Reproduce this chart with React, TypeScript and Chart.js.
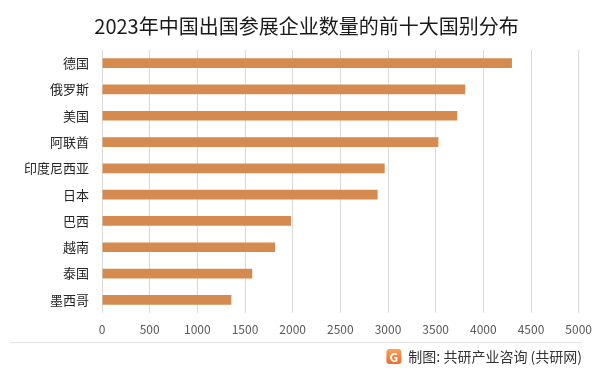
import React, { useEffect, useRef } from "react";
import { Chart, registerables } from "chart.js";

Chart.register(...registerables);

const countries = ["德国", "俄罗斯", "美国", "阿联酋", "印度尼西亚", "日本", "巴西", "越南", "泰国", "墨西哥"];
const companyCounts = [4300, 3810, 3727, 3528, 2965, 2891, 1983, 1816, 1576, 1357];
const axisMax = 5000;
const axisStep = 500;
const titleText = "2023年中国出国参展企业数量的前十大国别分布";
const sourceText = "制图: 共研产业咨询 (共研网)";

const FONT = "'Noto Sans CJK SC', 'Noto Sans', sans-serif";

const decorPlugin = {
  id: "decorPlugin",
  afterDraw(chart: any) {
    const ctx = chart.ctx as CanvasRenderingContext2D;
    ctx.save();
    // title
    ctx.font = `20px ${FONT}`;
    ctx.fillStyle = "#1a1a1a";
    ctx.textAlign = "center";
    ctx.textBaseline = "middle";
    ctx.fillText(titleText, 306.5, 26);
    // separator line
    ctx.strokeStyle = "#e3e3e3";
    ctx.lineWidth = 1;
    ctx.beginPath();
    ctx.moveTo(10, 342.5);
    ctx.lineTo(582, 342.5);
    ctx.stroke();
    // source
    ctx.font = `14px ${FONT}`;
    ctx.fillStyle = "#333333";
    ctx.textAlign = "right";
    ctx.fillText(sourceText, 582, 357);
    const w = ctx.measureText(sourceText).width;
    const ix = 582 - w - 22;
    const iy = 349;
    const g = ctx.createLinearGradient(ix, iy, ix, iy + 15);
    g.addColorStop(0, "#f7a35c");
    g.addColorStop(1, "#ee6b2f");
    ctx.fillStyle = g;
    ctx.beginPath();
    (ctx as any).roundRect(ix, iy, 15, 15, 3);
    ctx.fill();
    ctx.fillStyle = "#ffffff";
    ctx.font = `bold 12px ${FONT}`;
    ctx.textAlign = "center";
    ctx.fillText("G", ix + 7.5, iy + 8);
    ctx.restore();
  },
};

export default function App() {
  const ref = useRef<HTMLCanvasElement>(null);
  useEffect(() => {
    document.body.style.margin = "0";
    const canvas = ref.current!;
    const chart = new Chart(canvas, {
      type: "bar",
      data: {
        labels: countries,
        datasets: [
          {
            data: companyCounts,
            backgroundColor: "#d58b4f",
            categoryPercentage: 1,
            barPercentage: 0.37,
          },
        ],
      },
      options: {
        indexAxis: "y",
        animation: false,
        responsive: false,
        maintainAspectRatio: false,
        layout: { padding: { left: 0, right: 20, top: 50, bottom: 29 } },
        plugins: {
          legend: { display: false },
          tooltip: { enabled: false },
          title: { display: false },
        },
        scales: {
          x: {
            min: 0,
            max: axisMax,
            ticks: {
              stepSize: axisStep,
              color: "#595959",
              font: { family: FONT, size: 12 },
              padding: 9,
              callback: (v: any) => String(v),
            },
            grid: { color: "#d9d9d9", drawTicks: false },
            border: { display: false },
            afterFit(scale: any) {
              scale.height = 30;
            },
          },
          y: {
            ticks: {
              color: "#262626",
              font: { family: FONT, size: 13 },
              padding: 13,
            },
            grid: { display: false, drawTicks: false },
            border: { display: false },
            afterFit(scale: any) {
              scale.width = 102;
            },
          },
        },
      },
      plugins: [decorPlugin],
    });
    return () => chart.destroy();
  }, []);
  return (
    <div style={{ width: 601, height: 372, background: "#ffffff" }}>
      <canvas ref={ref} width={601} height={372} style={{ display: "block" }} />
    </div>
  );
}
